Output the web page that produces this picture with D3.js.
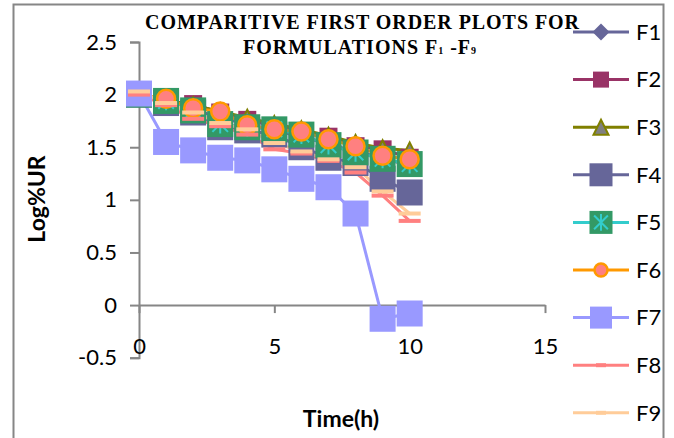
<!DOCTYPE html>
<html>
<head>
<meta charset="utf-8">
<script src="https://cdn.jsdelivr.net/npm/d3@7"></script>
<style>
  html, body { margin: 0; padding: 0; background: #fff; }
  svg { display: block; }
</style>
</head>
<body>
<svg id="chart" width="674" height="438"></svg>
<script>
// Sampling times (h)
const times = [0, 1, 2, 3, 4, 5, 6, 7, 8, 9, 10];

// Log % unreleased for each formulation
const F1 = [2.00, 1.93, 1.86, 1.78, 1.72, 1.66, 1.60, 1.53, 1.46, 1.40, 1.32];
const F2 = [2.00, 1.94, 1.91, 1.83, 1.76, 1.70, 1.65, 1.60, 1.51, 1.48, 1.40];
const F3 = [2.00, 1.95, 1.90, 1.84, 1.78, 1.72, 1.67, 1.61, 1.54, 1.49, 1.47];
const F4 = [2.00, 1.92, 1.83, 1.69, 1.66, 1.62, 1.50, 1.40, 1.35, 1.20, 1.07];
const F5 = [2.00, 1.94, 1.85, 1.72, 1.69, 1.67, 1.62, 1.52, 1.45, 1.39, 1.34];
const F6 = [2.00, 1.96, 1.87, 1.84, 1.71, 1.67, 1.65, 1.575, 1.51, 1.42, 1.385];
const F7 = [2.01, 1.55, 1.47, 1.40, 1.375, 1.29, 1.20, 1.12, 0.87, -0.13, -0.08];
const F8 = [2.00, 1.90, 1.77, 1.70, 1.62, 1.48, 1.44, 1.37, 1.26, 1.04, 0.80];
const F9 = [2.03, 1.92, 1.83, 1.73, 1.67, 1.54, 1.46, 1.385, 1.31, 1.08, 0.87];

const seriesNames = ["F1", "F2", "F3", "F4", "F5", "F6", "F7", "F8", "F9"];
const seriesValues = [F1, F2, F3, F4, F5, F6, F7, F8, F9];

const xTicks = [0, 5, 10, 15];
const yTicks = [-0.5, 0, 0.5, 1, 1.5, 2, 2.5];

// Per-series appearance
const styles = [
  { line: "#666699", marker: "diamond",  fill: "#666699", stroke: "#666699", size: 18, lsize: 17 },
  { line: "#993366", marker: "square",   fill: "#993366", stroke: "#993366", size: 18, lsize: 16 },
  { line: "#808000", marker: "triangle", fill: "#808080", stroke: "#808000", size: 18, lsize: 17 },
  { line: "#666699", marker: "square",   fill: "#666699", stroke: "#666699", size: 26, lsize: 23 },
  { line: "#33CCCC", marker: "star",     fill: "#339966", stroke: "#33CCCC", size: 26, lsize: 23 },
  { line: "#FF9900", marker: "circle",   fill: "#FF8080", stroke: "#FF9900", size: 20, lsize: 15 },
  { line: "#9999FF", marker: "square",   fill: "#9999FF", stroke: "#9999FF", size: 26, lsize: 22 },
  { line: "#FF8080", marker: "dash",     fill: "#FF8080", stroke: "#FF8080", size: 22, lsize: 10 },
  { line: "#FFCC99", marker: "dash",     fill: "#FFCC99", stroke: "#FFCC99", size: 22, lsize: 10 }
];

const svg = d3.select("#chart");
const axisColor = "#868686";
const labelFont = "Lato, 'Open Sans', sans-serif";

// Chart frame
svg.append("rect")
  .attr("x", 13.5).attr("y", 4.5)
  .attr("width", 650).attr("height", 460)
  .attr("fill", "none").attr("stroke", axisColor).attr("stroke-width", 2);

const x = d3.scaleLinear().domain([0, 15]).range([139, 545]);
const y = d3.scaleLinear().domain([-0.5, 2.5]).range([357.7, 42]);

// Y axis
const yAxis = svg.append("g")
  .attr("transform", `translate(${x(0)},0)`)
  .call(d3.axisLeft(y).tickValues(yTicks).tickSize(9).tickPadding(13)
    .tickFormat(d => String(d)));
yAxis.select(".domain").attr("stroke", axisColor).attr("stroke-width", 2);
yAxis.selectAll(".tick line").attr("stroke", axisColor).attr("stroke-width", 2);
yAxis.selectAll(".tick text")
  .attr("font-family", labelFont).attr("font-size", 22).attr("fill", "#000");

// X axis crossing at y = 0, labels sit low
const xAxis = svg.append("g")
  .attr("transform", `translate(0,${y(0)})`)
  .call(d3.axisBottom(x).tickValues(xTicks).tickSize(8).tickPadding(25)
    .tickFormat(d => String(d)).tickSizeOuter(0));
xAxis.select(".domain").attr("stroke", axisColor).attr("stroke-width", 2);
xAxis.selectAll(".tick line").attr("stroke", axisColor).attr("stroke-width", 2);
xAxis.selectAll(".tick text")
  .attr("font-family", labelFont).attr("font-size", 22).attr("fill", "#000");

// Axis titles
svg.append("text")
  .attr("x", 341).attr("y", 419).attr("dy", "0.35em")
  .attr("text-anchor", "middle")
  .attr("font-family", labelFont).attr("font-weight", "bold").attr("font-size", 23)
  .text("Time(h)");

svg.append("text")
  .attr("transform", "translate(37,199) rotate(-90)")
  .attr("dy", "0.35em")
  .attr("text-anchor", "middle")
  .attr("font-family", labelFont).attr("font-weight", "bold").attr("font-size", 23)
  .text("Log%UR");

// Title
const titleFont = "'Liberation Serif', 'Times New Roman', serif";
svg.append("text")
  .attr("x", 145).attr("y", 29)
  .attr("font-family", titleFont).attr("font-weight", "bold").attr("font-size", 20)
  .attr("textLength", 434).attr("lengthAdjust", "spacing")
  .text("COMPARITIVE FIRST ORDER PLOTS FOR");
const t2 = svg.append("text")
  .attr("x", 243).attr("y", 54)
  .attr("font-family", titleFont).attr("font-weight", "bold").attr("font-size", 20)
  .attr("textLength", 233).attr("lengthAdjust", "spacing");
t2.append("tspan").text("FORMULATIONS F");
t2.append("tspan").attr("font-size", 10).text("1");
t2.append("tspan").text(" -F");
t2.append("tspan").attr("font-size", 10).text("9");

// Marker drawing
function drawMarker(g, st, cx, cy, size) {
  const h = size / 2;
  if (st.marker === "square") {
    g.append("rect").attr("x", cx - h).attr("y", cy - h)
      .attr("width", size).attr("height", size).attr("fill", st.fill);
  } else if (st.marker === "diamond") {
    g.append("path")
      .attr("d", `M${cx},${cy - h}L${cx + h},${cy}L${cx},${cy + h}L${cx - h},${cy}Z`)
      .attr("fill", st.fill);
  } else if (st.marker === "triangle") {
    g.append("path")
      .attr("d", `M${cx},${cy - h + 1}L${cx + h - 1},${cy + h - 1}L${cx - h + 1},${cy + h - 1}Z`)
      .attr("fill", st.fill).attr("stroke", st.stroke).attr("stroke-width", 2);
  } else if (st.marker === "circle") {
    g.append("circle").attr("cx", cx).attr("cy", cy).attr("r", h - 1)
      .attr("fill", st.fill).attr("stroke", st.stroke).attr("stroke-width", 2.5);
  } else if (st.marker === "star") {
    g.append("rect").attr("x", cx - h).attr("y", cy - h)
      .attr("width", size).attr("height", size).attr("fill", st.fill);
    const a = h * 0.6;
    g.append("path")
      .attr("d", `M${cx - a},${cy - a}L${cx + a},${cy + a}M${cx + a},${cy - a}L${cx - a},${cy + a}M${cx},${cy - a * 1.2}L${cx},${cy + a * 1.2}`)
      .attr("stroke", st.stroke).attr("stroke-width", 2).attr("fill", "none");
  } else if (st.marker === "dash") {
    g.append("rect").attr("x", cx - h).attr("y", cy - 2)
      .attr("width", size).attr("height", 4).attr("fill", st.fill);
  }
}

// All series lines first, then markers on top, in series order
const line = d3.line().x(d => x(d[0])).y(d => y(d[1]));
const seriesPts = seriesValues.map(vals => times.map((t, k) => [t, vals[k]]));
const linesLayer = svg.append("g");
const markersLayer = svg.append("g");
seriesPts.forEach((pts, i) => {
  const st = styles[i];
  linesLayer.append("path").datum(pts).attr("d", line)
    .attr("fill", "none").attr("stroke", st.line).attr("stroke-width", 3)
    .attr("stroke-linejoin", "round");
  const g = markersLayer.append("g").attr("class", "series-" + seriesNames[i]);
  pts.forEach(p => drawMarker(g, st, x(p[0]), y(p[1]), st.size));
});

// Legend
const legend = svg.append("g");
seriesNames.forEach((name, i) => {
  const st = styles[i];
  const ly = 32 + i * 47.6;
  const g = legend.append("g");
  g.append("line").attr("x1", 573).attr("x2", 629).attr("y1", ly).attr("y2", ly)
    .attr("stroke", st.line).attr("stroke-width", 3);
  drawMarker(g, st, 601, ly, st.lsize);
  g.append("text").attr("x", 636).attr("y", ly).attr("dy", "0.35em")
    .attr("font-family", labelFont).attr("font-size", 22).attr("fill", "#000")
    .text(name);
});
</script>
</body>
</html>
